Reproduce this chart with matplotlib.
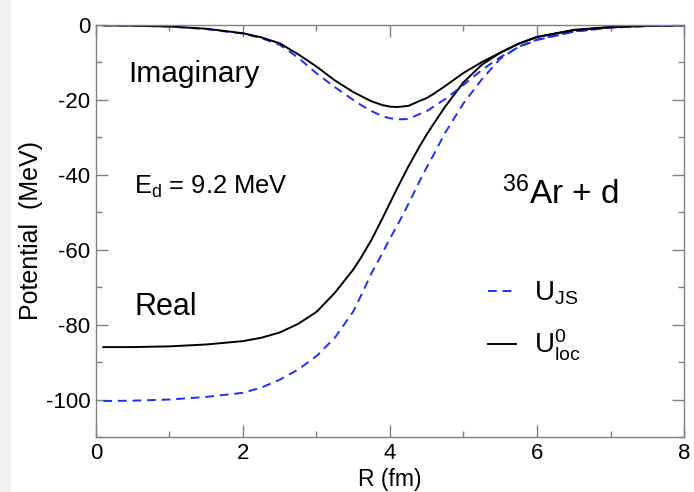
import matplotlib
matplotlib.use("Agg")
import matplotlib.pyplot as plt
from matplotlib.patches import Rectangle

plt.rcParams["font.family"] = ["Liberation Sans", "DejaVu Sans"]
plt.rcParams["mathtext.fontset"] = "custom"
plt.rcParams["mathtext.rm"] = "Liberation Sans"
plt.rcParams["mathtext.it"] = "Liberation Sans"

# radius grid (fm)
r_fm = [0.1, 0.5, 1.0, 1.5, 2.0, 2.25, 2.5, 2.75, 3.0, 3.25, 3.5, 3.6, 3.75, 3.9,
        4.0, 4.1, 4.25, 4.4, 4.5, 4.6, 4.75, 5.0, 5.25, 5.5, 5.75, 6.0, 6.5,
        7.0, 7.5, 8.0]

# real parts (MeV)
real_loc = [-86.0, -86.0, -85.8, -85.3, -84.4, -83.5, -82.1, -79.8, -76.6, -71.5,
            -65.3, -62.3, -57.3, -51.5, -47.5, -43.5, -37.8, -32.5, -29.2, -26.2,
            -21.8, -15.3, -10.6, -7.4, -5.0, -3.2, -1.3, -0.5, -0.2, -0.1]
real_js = [-100.4, -100.3, -100.0, -99.3, -98.2, -96.8, -94.7, -92.0, -88.4, -83.5,
           -76.5, -72.5, -66.2, -60.8, -57.0, -53.5, -47.8, -41.8, -38.0, -34.4,
           -28.8, -20.9, -14.5, -9.0, -5.8, -3.9, -1.7, -0.7, -0.3, -0.1]

# imaginary parts (MeV)
imag_loc = [-0.1, -0.2, -0.4, -1.0, -2.2, -3.3, -4.9, -7.8, -11.1, -14.8,
            -17.9, -18.9, -20.4, -21.4, -21.8, -21.9, -21.6, -20.3, -19.5, -18.3,
            -16.3, -12.8, -9.9, -7.4, -5.0, -3.2, -1.4, -0.6, -0.2, 0.0]
imag_js = [-0.1, -0.2, -0.4, -1.1, -2.3, -3.5, -5.3, -8.7, -12.9, -16.6,
           -20.0, -21.3, -23.0, -24.4, -24.9, -25.2, -25.1, -23.8, -23.0, -21.7,
           -19.8, -16.0, -12.0, -8.6, -5.9, -4.0, -1.8, -0.7, -0.3, -0.1]

x_ticks = [0, 2, 4, 6, 8]
y_ticks = [0, -20, -40, -60, -80, -100]

fig = plt.figure(figsize=(6.94, 4.92), dpi=100)
fig.patches.append(Rectangle((0, 0), 10 / 694, 1, transform=fig.transFigure,
                             color="#f2f2f2", zorder=0))
ax = fig.add_axes([0.1383, 0.1118, 0.8473, 0.8374])

blue = "#1f2ff0"
dash = (0, (4.5, 3))
ax.plot(r_fm, real_js, color=blue, lw=1.4, linestyle=dash, label=r"U$_{\mathregular{JS}}$")
ax.plot(r_fm, real_loc, color="black", lw=1.4, label=r"U$^{\mathregular{0}}_{\mathregular{loc}}$")
ax.plot(r_fm, imag_js, color=blue, lw=1.4, linestyle=dash)
ax.plot(r_fm, imag_loc, color="black", lw=1.4)

ax.set_xlim(0, 8)
ax.set_ylim(-110, 0)
ax.set_xticks(x_ticks)
ax.set_xticks([1, 3, 5, 7], minor=True)
ax.set_yticks(y_ticks)
ax.set_yticks([-10, -30, -50, -70, -90, -110], minor=True)
ax.set_xticklabels([str(v) for v in x_ticks])
ax.set_yticklabels([str(v) for v in y_ticks])

for s in ax.spines.values():
    s.set_color("#808080")
    s.set_linewidth(1.0)
ax.tick_params(which="both", direction="in", top=True, right=True, color="#808080",
               labelsize=16)
ax.tick_params(axis="y", pad=4)
ax.tick_params(axis="x", pad=4)
ax.tick_params(which="major", length=8.5, width=1.0)
ax.tick_params(which="minor", length=4.5, width=1.0)

ax.set_xlabel("R (fm)", fontsize=16.5, labelpad=3)
ax.set_ylabel("Potential  (MeV)", fontsize=18, labelpad=2)

ax.text(0.055, 0.882, "Imaginary", transform=ax.transAxes, fontsize=21.5, va="center")
ax.text(0.064, 0.606, r"E$_{\mathregular{d}}$ = 9.2 MeV", transform=ax.transAxes,
        fontsize=18.4, va="center")
ax.text(0.066, 0.315, "Real", transform=ax.transAxes, fontsize=22, va="center")
ax.text(0.69, 0.59, r"$^{\mathregular{36}}$Ar + d", transform=ax.transAxes,
        fontsize=24, va="center")

ax.legend(loc="center left", bbox_to_anchor=(0.625, 0.28), frameon=False,
          fontsize=20, handlelength=1.0, handletextpad=0.65, labelspacing=0.75)

fig.savefig("out.png", dpi=100)
